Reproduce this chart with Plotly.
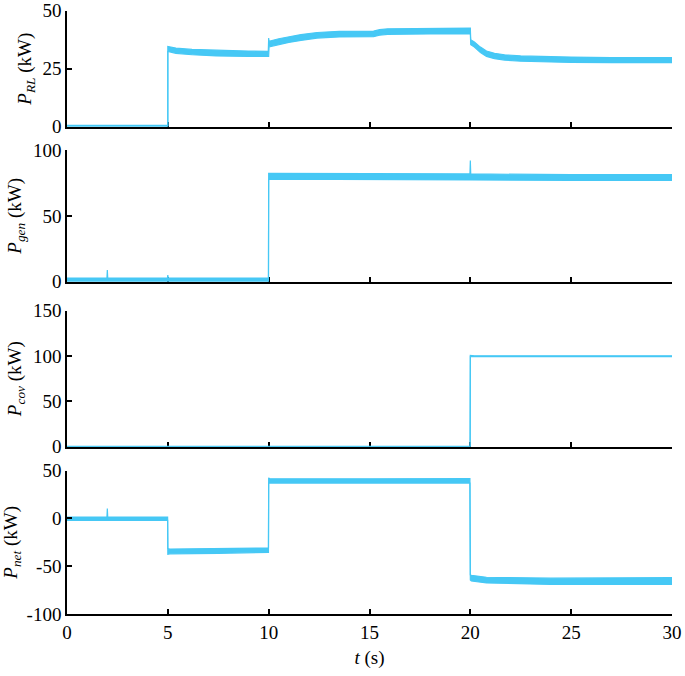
import plotly.graph_objects as go

# ---------------- data ----------------
# P_RL (kW): time, upper and lower edge of the trace band
t_rl = [0, 4.999, 5.0, 5.4, 6.2, 7.4, 9.0, 9.98, 10.0, 10.02, 10.5, 11.0, 11.6, 12.4, 13.5, 15.2,
        15.5, 15.9, 18.0, 20.0, 20.02, 20.2, 20.5, 20.8, 21.2, 21.7, 22.5, 23.5, 25.0, 27.0, 30.0]
hi_rl = [0.6, 0.6, 34.6, 33.9, 33.3, 32.9, 32.6, 32.5, 38.2, 36.8, 37.9, 38.8, 39.7, 40.6, 41.1, 41.2,
         41.8, 42.2, 42.4, 42.5, 37.5, 36.5, 34.3, 32.6, 31.6, 31.0, 30.5, 30.2, 30.0, 29.8, 29.8]
lo_rl = [-0.6, -0.6, 32.4, 31.6, 31.0, 30.5, 30.3, 30.3, 30.3, 34.4, 35.4, 36.3, 37.2, 38.2, 38.7, 38.8,
         39.4, 39.8, 40.0, 40.0, 35.3, 34.3, 32.0, 30.3, 29.3, 28.7, 28.2, 27.9, 27.7, 27.6, 27.6]

# P_gen (kW)
t_gen = [0, 1.98, 2.0, 2.02, 4.98, 5.0, 5.02, 9.99, 10.0, 15.0, 19.98, 20.0, 20.02, 25.0, 30.0]
hi_gen = [2.8, 2.8, 8.9, 2.8, 2.8, 5.1, 2.8, 2.8, 82.3, 81.8, 81.8, 92.0, 81.8, 81.3, 81.3]
lo_gen = [-1, -1, -1, -1, -1, -1, -1, -1, 77.8, 77.3, 77.3, 77.3, 77.3, 77.0, 77.0]

# P_cov (kW)
t_cov = [0, 19.99, 20.0, 20.05, 20.2, 30.0]
hi_cov = [0.4, 0.4, 100.8, 100.6, 100.3, 100.3]
lo_cov = [-0.4, -0.4, 99.5, 99.3, 99.3, 99.3]

# P_net (kW)
t_net = [0, 1.98, 2.0, 2.02, 4.99, 5.0, 5.1, 7.5, 9.99, 10.0, 10.05, 15.0, 19.98, 20.0, 20.05, 20.8, 24.0, 30.0]
hi_net = [1.5, 1.5, 10.5, 1.5, 1.5, -31.5, -32.0, -31.5, -30.8, 42.5, 41.6, 41.6, 41.8, -59.0, -59.5, -61.5, -62.5, -62.0]
lo_net = [-2.0, -2.0, -2.0, -2.0, -2.0, -37.5, -37.0, -36.5, -35.5, 37.0, 37.0, 37.0, 37.0, -64.5, -65.5, -67.5, -69.0, -69.0]

x_ticks = [0, 5, 10, 15, 20, 25, 30]
y_ticks = [[0, 25, 50], [0, 50, 100], [0, 50, 100, 150], [-100, -50, 0, 50]]
y_ticktext = [["0", "25", "50"], ["0", "50", "100"], ["0", "50", "100", "150"], ["-100", "-50", "0", "50"]]
y_ranges = [[0, 50], [0, 100], [0, 150], [-100, 50]]
y_titles = ["<i>P</i><sub><i>RL</i></sub> (kW)", "<i>P</i><sub><i>gen</i></sub> (kW)",
            "<i>P</i><sub><i>cov</i></sub> (kW)", "<i>P</i><sub><i>net</i></sub> (kW)"]
x_title = "<i>t</i> (s)"

# ---------------- figure ----------------
COLOR = "#46c8f5"
FONT = "Liberation Serif"
domains = [[0.8126, 0.9842], [0.5833, 0.7781], [0.3392, 0.5404], [0.0917, 0.3037]]
series = [(t_rl, hi_rl, lo_rl), (t_gen, hi_gen, lo_gen), (t_cov, hi_cov, lo_cov), (t_net, hi_net, lo_net)]

fig = go.Figure()
for i, (t, hi, lo) in enumerate(series):
    xa = "x" if i == 0 else f"x{i+1}"
    ya = "y" if i == 0 else f"y{i+1}"
    fig.add_trace(go.Scatter(x=t, y=lo, mode="lines", line=dict(color=COLOR, width=1.2),
                             xaxis=xa, yaxis=ya, showlegend=False, hoverinfo="skip"))
    fig.add_trace(go.Scatter(x=t, y=hi, mode="lines", line=dict(color=COLOR, width=1.2),
                             fill="tonexty", fillcolor=COLOR,
                             xaxis=xa, yaxis=ya, showlegend=False, hoverinfo="skip"))

layout = dict(
    width=685, height=676,
    margin=dict(l=67, r=13, t=0, b=0, autoexpand=False),
    paper_bgcolor="white", plot_bgcolor="white",
    font=dict(family=FONT, size=19, color="black"),
    showlegend=False,
)
for i in range(4):
    xk = "xaxis" if i == 0 else f"xaxis{i+1}"
    yk = "yaxis" if i == 0 else f"yaxis{i+1}"
    ya = "y" if i == 0 else f"y{i+1}"
    xa = "x" if i == 0 else f"x{i+1}"
    layout[xk] = dict(
        domain=[0, 1], anchor=ya, range=[0, 30], automargin=False,
        tickvals=x_ticks, showticklabels=(i == 3),
        ticks="inside", ticklen=5, tickwidth=1.5, tickcolor="black",
        showline=True, linecolor="black", linewidth=1.5,
        showgrid=False, zeroline=False, layer="below traces",
        tickfont=dict(family=FONT, size=19), ticklabeloverflow="allow",
    )
    if i == 3:
        layout[xk]["title"] = dict(text=x_title, font=dict(family=FONT, size=19), standoff=9)
    layout[yk] = dict(
        domain=domains[i], anchor=xa, range=y_ranges[i], automargin=False,
        tickvals=y_ticks[i], ticktext=y_ticktext[i],
        ticks="inside", ticklen=5, tickwidth=1.5, tickcolor="black",
        showline=True, linecolor="black", linewidth=1.5,
        showgrid=False, zeroline=False, ticklabeloverflow="allow",
        tickfont=dict(family=FONT, size=19),
        title=dict(text=y_titles[i], font=dict(family=FONT, size=19), standoff=6),
    )
fig.update_layout(**layout)
fig.write_html("out.html", config={"displayModeBar": False},
               post_script="document.body.style.margin='0';document.body.style.padding='0';")
